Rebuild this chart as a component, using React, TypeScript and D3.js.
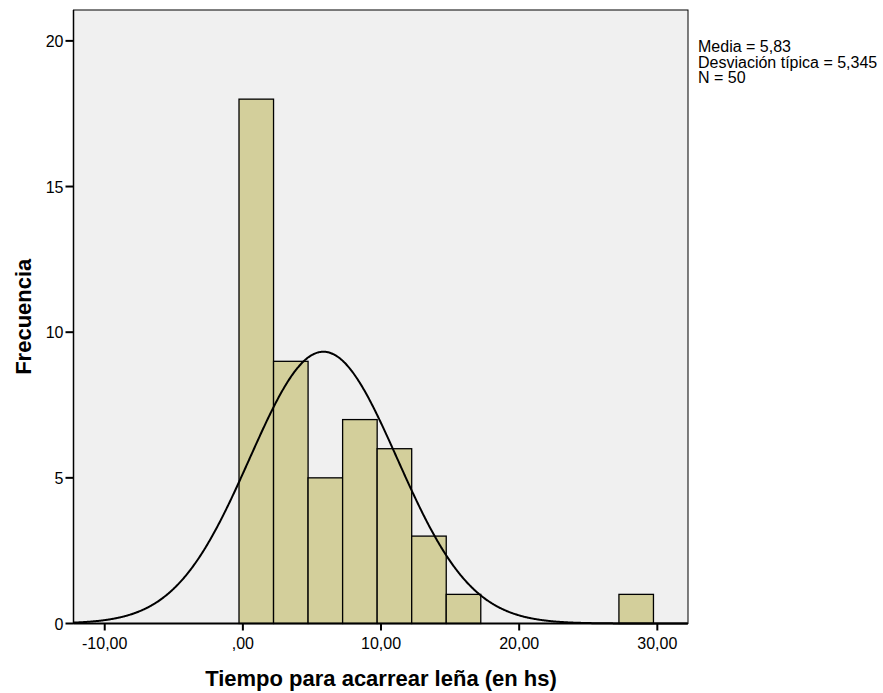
import React from "react";
import * as d3 from "d3";

const binStart = -0.28;
const binWidth = 2.5;
const binCounts = [18, 9, 5, 7, 6, 3, 1, 0, 0, 0, 0, 1];
const xTicks = [-10, 0, 10, 20, 30];
const xTickLabels = ["-10,00", ",00", "10,00", "20,00", "30,00"];
const yTicks = [0, 5, 10, 15, 20];
const mean = 5.83;
const sd = 5.345;
const n = 50;
const statsLines = ["Media = 5,83", "Desviación típica = 5,345", "N = 50"];

export default function App() {
  const W = 883, H = 693;
  const left = 73.5, right = 688, top = 10, bottom = 623.5;
  const x = d3.scaleLinear().domain([-12.26, 32.22]).range([left, right]);
  const y = d3.scaleLinear().domain([0, 21.06]).range([bottom, top]);
  const font = "'Liberation Sans', Arial, sans-serif";

  const curvePts = d3.range(-12.26, 32.22, 0.05).map((v) => {
    const dens = Math.exp(-0.5 * ((v - mean) / sd) ** 2) / (sd * Math.sqrt(2 * Math.PI));
    return [v, dens * n * binWidth] as [number, number];
  });
  const line = d3.line<[number, number]>().x((d) => x(d[0])).y((d) => y(d[1])).curve(d3.curveBasis);

  return (
    <svg width={W} height={H} style={{ position: "absolute", left: 0, top: 0 }}>
      <rect x={0} y={0} width={W} height={H} fill="#fff" />
      <rect x={left} y={top} width={right - left} height={bottom - top} fill="#F0F0F0" stroke="#000" strokeWidth={1} />
      {binCounts.map((c, i) =>
        c > 0 ? (
          <rect
            key={i}
            x={x(binStart + i * binWidth)}
            y={y(c)}
            width={x(binStart + (i + 1) * binWidth) - x(binStart + i * binWidth)}
            height={y(0) - y(c)}
            fill="#D3CF9B"
            stroke="#000"
            strokeWidth={1.3}
          />
        ) : null
      )}
      <path d={line(curvePts) || ""} fill="none" stroke="#000" strokeWidth={2} />
      <line x1={left} x2={right} y1={bottom} y2={bottom} stroke="#000" strokeWidth={2} />
      <line x1={left} x2={left} y1={top} y2={bottom} stroke="#000" strokeWidth={1.5} />
      {xTicks.map((t, i) => (
        <g key={t}>
          <line x1={x(t)} x2={x(t)} y1={bottom} y2={bottom + 7} stroke="#000" strokeWidth={2} />
          <text x={x(t)} y={bottom + 25} textAnchor="middle" fontFamily={font} fontSize={16} fill="#000">
            {xTickLabels[i]}
          </text>
        </g>
      ))}
      {yTicks.map((t) => (
        <g key={t}>
          <line x1={left - 8} x2={left} y1={y(t)} y2={y(t)} stroke="#000" strokeWidth={2} />
          <text x={left - 10} y={y(t) + 6} textAnchor="end" fontFamily={font} fontSize={16} fill="#000">
            {t}
          </text>
        </g>
      ))}
      <text x={381} y={686} textAnchor="middle" fontFamily={font} fontSize={22} fontWeight="bold" fill="#000">
        Tiempo para acarrear leña (en hs)
      </text>
      <text
        transform={`translate(30.5,${(top + bottom) / 2}) rotate(-90)`}
        textAnchor="middle"
        fontFamily={font}
        fontSize={22}
        fontWeight="bold"
        fill="#000"
      >
        Frecuencia
      </text>
      {statsLines.map((s, i) => (
        <text key={i} x={698} y={52 + i * 15.5} fontFamily={font} fontSize={16} fill="#000">
          {s}
        </text>
      ))}
    </svg>
  );
}
